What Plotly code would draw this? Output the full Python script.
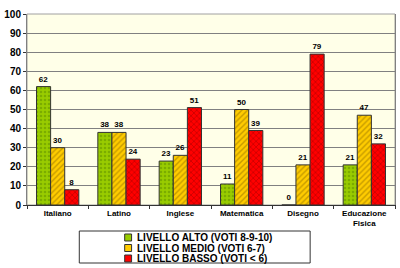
import plotly.graph_objects as go

categories = ["Italiano", "Latino", "Inglese", "Matematica", "Disegno", "Educazione<br>Fisica"]
alto = [62, 38, 23, 11, 0, 21]
medio = [30, 38, 26, 50, 21, 47]
basso = [8, 24, 51, 39, 79, 32]
series_names = ["LIVELLO ALTO (VOTI 8-9-10)", "LIVELLO MEDIO (VOTI 6-7)", "LIVELLO BASSO (VOTI < 6)"]
y_ticks = list(range(0, 101, 10))

styles = [
    dict(bg="#99CC00", fg="#5E8C00", shape="."),
    dict(bg="#FFCC00", fg="#8C6A00", shape="/"),
    dict(bg="#FF0000", fg="#8C0000", shape="x"),
]

fig = go.Figure()
for name, vals, st in zip(series_names, [alto, medio, basso], styles):
    fig.add_trace(go.Bar(
        x=categories, y=vals, name=name,
        text=[str(v) for v in vals], textposition="outside",
        textfont=dict(family="Liberation Sans, Arial", size=8, color="black", weight="bold"),
        cliponaxis=False,
        marker=dict(color=st["bg"], line=dict(color="#333333", width=1),
                    pattern=dict(shape=st["shape"], fgcolor=st["fg"], bgcolor=st["bg"],
                                 size=4, solidity=0.35)),
        showlegend=False,
    ))

fig.update_layout(
    width=400, height=268,
    margin=dict(l=23, r=4, t=14, b=63),
    paper_bgcolor="white",
    plot_bgcolor="#FFFFE8",
    barmode="group", bargap=0.31, bargroupgap=0,
    font=dict(family="Liberation Sans, Arial", size=10, color="black"),
)
fig.update_yaxes(range=[0, 100], tickvals=y_ticks, showgrid=True, gridcolor="#808080", gridwidth=1,
                 showline=True, linecolor="#808080", mirror=True, ticks="outside", ticklen=3,
                 tickcolor="#333333", tickfont=dict(size=10, family="Liberation Sans, Arial", weight="bold"),
                 zeroline=False)
fig.update_xaxes(showline=True, linecolor="#333333", mirror=False, ticks="outside", tickson="boundaries",
                 ticklen=3, tickcolor="#333333", tickfont=dict(size=8, family="Liberation Sans, Arial", weight="bold"))

fig.add_shape(type="rect", xref="paper", yref="paper", x0=0, x1=1, y0=0, y1=1,
              line=dict(color="#A0A0A0", width=1), fillcolor="rgba(0,0,0,0)", layer="below")

# Manual legend
fig.add_shape(type="rect", xref="paper", yref="paper", x0=(76 - 23) / 373, x1=(310 - 23) / 373,
              y0=(205 - 263) / 191, y1=(205 - 231) / 191, line=dict(color="#333333", width=1))
for i, (name, st) in enumerate(zip(series_names, styles)):
    yc = 237.5 + i * 10.5
    x0p = 122
    fig.add_shape(type="rect", xref="paper", yref="paper",
                  x0=(x0p - 23) / 373, x1=(x0p + 7 - 23) / 373,
                  y0=(205 - (yc + 3.5)) / 191, y1=(205 - (yc - 3.5)) / 191,
                  fillcolor=st["bg"], line=dict(color="#333333", width=1))
    fig.add_annotation(xref="paper", yref="paper", x=(132 - 23) / 373, y=(205 - yc) / 191,
                       text=name, showarrow=False, xanchor="left", yanchor="middle",
                       font=dict(size=10, family="Liberation Sans, Arial", color="black", weight="bold"))

fig.write_html("out.html")
